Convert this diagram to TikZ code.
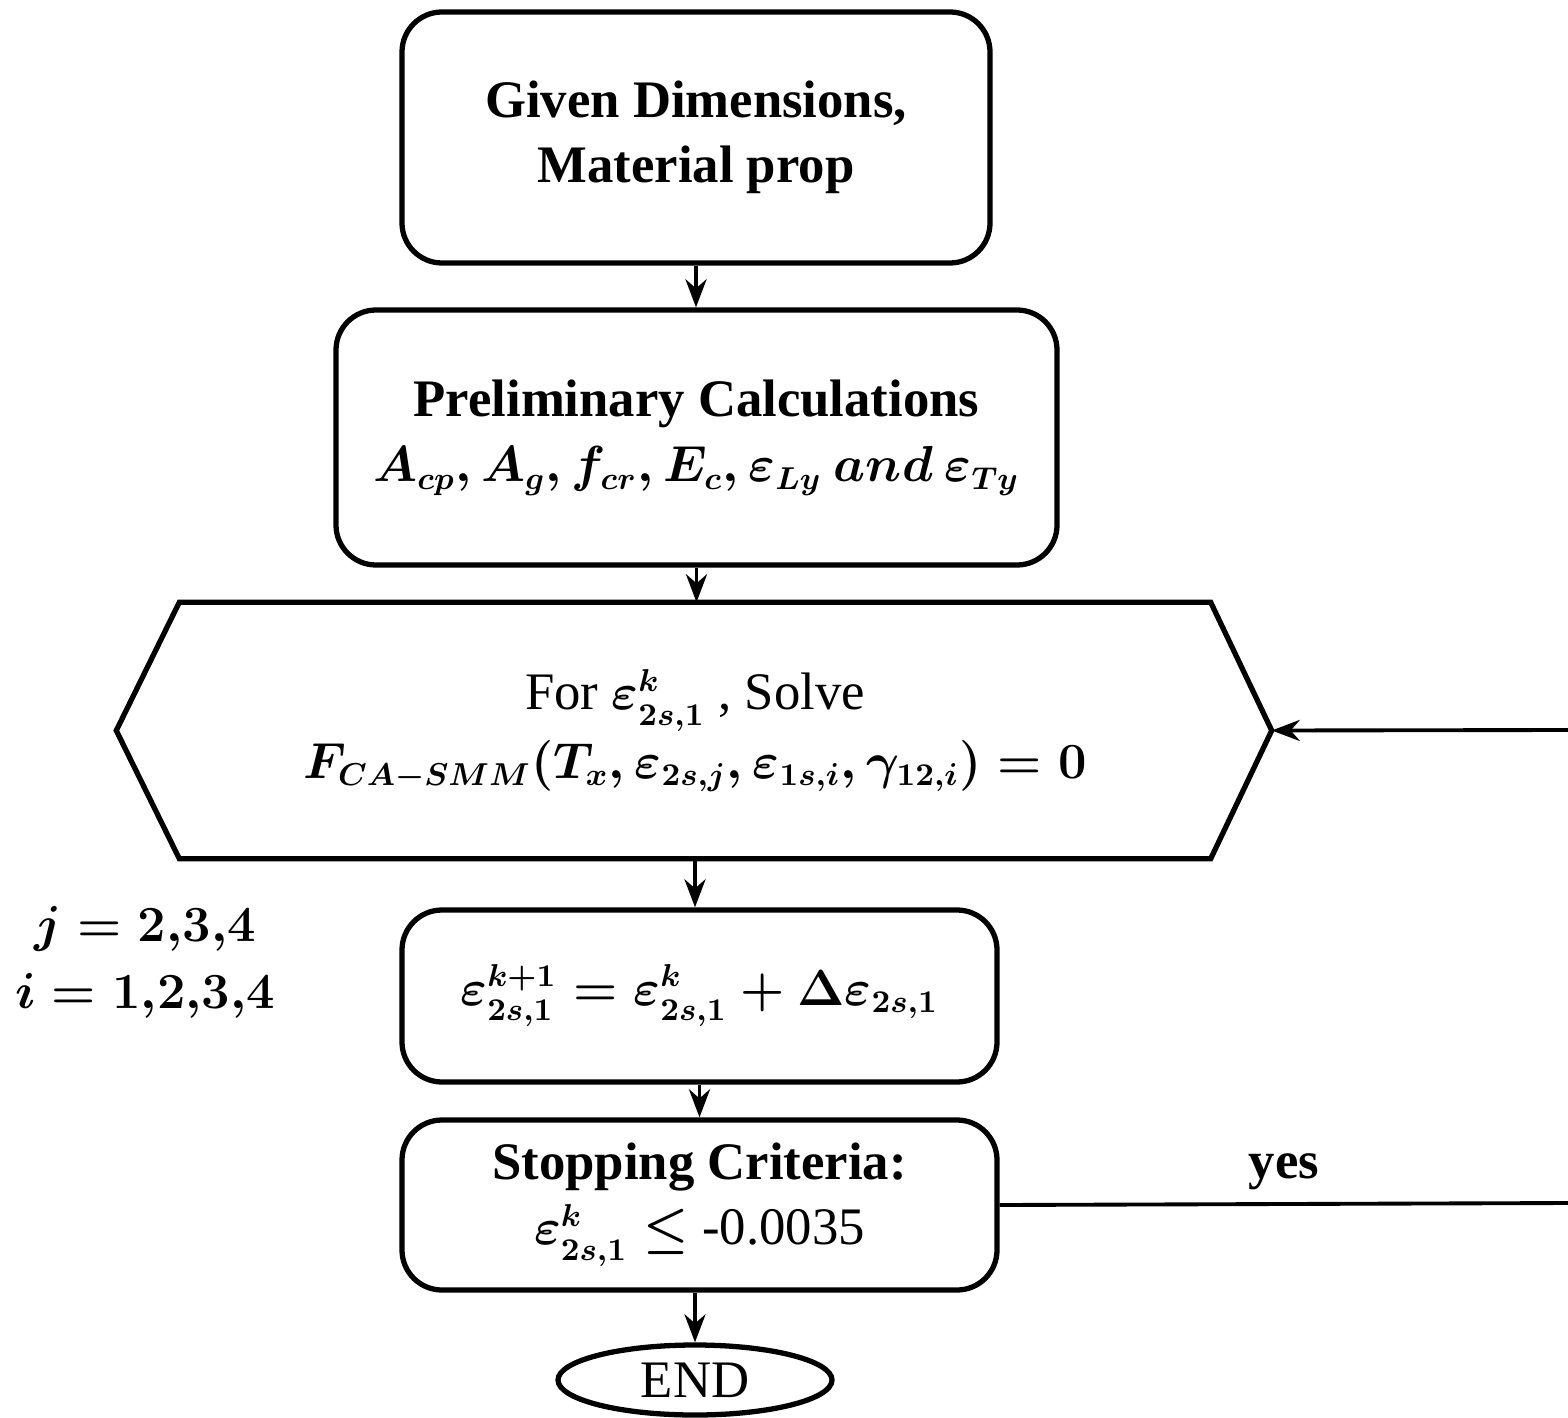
\documentclass[tikz,border=0pt]{standalone}
\usepackage{amsmath,bm}
\usepackage{fontspec}
\setmainfont{Liberation Serif}
\usetikzlibrary{arrows.meta,shapes.geometric}

\begin{document}
\begin{tikzpicture}[
    box/.style={draw, line width=1.5pt, rounded corners=0.4cm, align=center,
        font=\bfseries\boldmath\fontsize{15}{18.5}\selectfont},
    mathsize/.style={font=\boldmath\fontsize{13.5}{19}\selectfont},
    flow/.style={-{Stealth[length=8pt,width=6pt]}, line width=1.1pt},
]
    \useasboundingbox (0,0) rectangle (15.68,-14.18);

    \node[box, minimum width=5.88cm, minimum height=2.51cm] (given) at (6.96,-1.375)
        {Given Dimensions,\\Material prop};
    \node[box, minimum width=7.21cm, minimum height=2.55cm] (prelim) at (6.965,-4.375)
        {Preliminary Calculations\\{\fontsize{13.5}{18}\selectfont$A_{cp},A_g,f_{cr}, E_c, \varepsilon_{Ly}\ and\ \varepsilon_{Ty}$}};
    \node[align=center, font=\boldmath\fontsize{15}{19.5}\selectfont,
        minimum width=10.30cm, minimum height=2.55cm] (solve) at (6.95,-7.305)
        {For {\fontsize{13.5}{18}\selectfont$\varepsilon^{k}_{2s,1}$} , Solve\\{\fontsize{13.5}{18}\selectfont$F_{CA-SMM}(T_x, \varepsilon_{2s,j}, \varepsilon_{1s,i}, \gamma_{12,i}) = 0$}};
    \draw[line width=1.5pt] (solve.north west) -- (solve.north east)
        -- ([xshift=0.61cm]solve.east) -- (solve.south east)
        -- (solve.south west) -- ([xshift=-0.63cm]solve.west) -- cycle;
    \coordinate (solveR) at ([xshift=0.61cm]solve.east);
    \node[box, mathsize, minimum width=5.95cm, minimum height=1.72cm] (update) at (6.995,-9.96)
        {$\varepsilon^{k+1}_{2s,1} = \varepsilon^{k}_{2s,1} + \Delta\varepsilon_{2s,1}$};
    \node[box, minimum width=5.95cm, minimum height=1.70cm] (stop) at (6.995,-12.05)
        {Stopping Criteria:\\{\fontsize{13.5}{18}\selectfont$\varepsilon^{k}_{2s,1} \le$} {\mdseries -0.0035}};
    \node[draw, ellipse, line width=1.5pt, inner sep=0pt, minimum width=2.74cm,
        minimum height=0.70cm, font=\fontsize{15}{18}\selectfont] (end) at (6.95,-13.80) {END};

    \node[align=center, font=\boldmath\fontsize{15}{19}\selectfont] (index) at (1.45,-9.62)
        {$j = 2{,}3{,}4$\\$i = 1{,}2{,}3{,}4$};

    \draw[flow] (given.south) -- (given.south |- prelim.north);
    \draw[flow] (prelim.south) -- (prelim.south |- solve.north);
    \draw[flow] (solve.south) -- (solve.south |- update.north);
    \draw[flow] (update.south) -- (update.south |- stop.north);
    \draw[flow] (stop.south -| end.north) -- (end.north);

    \coordinate (yesR) at (15.68,-12.03);
    \coordinate (backR) at (15.68,-7.30);
    \draw[line width=1.1pt] (stop.east) -- node[above, font=\bfseries\fontsize{15}{18}\selectfont] {yes} (yesR);
    \draw[flow] (backR) -- (solveR);
\end{tikzpicture}
\end{document}
